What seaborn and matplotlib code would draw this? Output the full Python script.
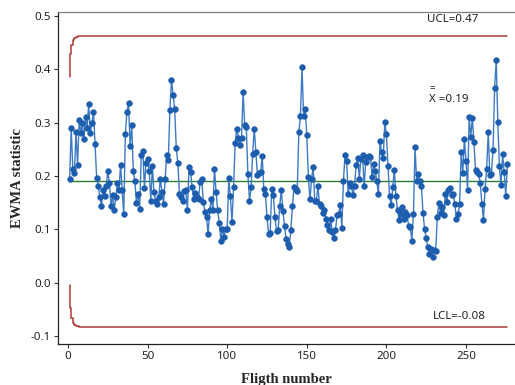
import numpy as np
import pandas as pd
import matplotlib
matplotlib.use("Agg")
import matplotlib.pyplot as plt
import seaborn as sns

# ---- data ----
ewma = [
    0.194, 0.29, 0.213, 0.205, 0.283, 0.22, 0.305, 0.28, 0.30, 0.27, 0.31, 0.29, 0.335, 0.28, 0.30, 0.32, 0.26,
    0.196, 0.181, 0.161, 0.144, 0.173, 0.162, 0.181, 0.21, 0.186, 0.143, 0.164, 0.136, 0.16, 0.186, 0.173, 0.22, 0.173, 0.128,
    0.278, 0.32, 0.336, 0.257, 0.295, 0.21, 0.19, 0.15,
    0.167, 0.139, 0.24, 0.247, 0.178, 0.224, 0.232, 0.209, 0.154, 0.218, 0.17, 0.153, 0.147, 0.16, 0.195, 0.17, 0.148, 0.195, 0.24, 0.23, 0.323,
    0.38, 0.352, 0.326, 0.252, 0.224, 0.167, 0.16, 0.154, 0.172, 0.174, 0.136, 0.216, 0.207, 0.179, 0.156, 0.168, 0.16, 0.157, 0.189, 0.195, 0.151, 0.133, 0.123, 0.091, 0.137, 0.156, 0.136, 0.214, 0.17,
    0.136, 0.112, 0.079, 0.101, 0.086, 0.101, 0.101, 0.196, 0.162, 0.114, 0.179, 0.262, 0.289, 0.272, 0.258, 0.272, 0.357,
    0.295, 0.291, 0.204, 0.153, 0.179, 0.242, 0.289, 0.245, 0.201, 0.206, 0.207, 0.237, 0.176, 0.166, 0.123, 0.091, 0.093, 0.176, 0.164, 0.123, 0.097, 0.098, 0.144, 0.174, 0.134, 0.107, 0.082, 0.073, 0.066, 0.099, 0.144,
    0.179, 0.176, 0.172, 0.282, 0.312, 0.404, 0.312, 0.326, 0.276, 0.198, 0.156, 0.195, 0.216, 0.154, 0.153, 0.181, 0.147, 0.143, 0.131, 0.137, 0.12, 0.109, 0.098, 0.12, 0.095, 0.083, 0.098, 0.126, 0.129, 0.145, 0.103, 0.19, 0.239, 0.229, 0.167, 0.186, 0.182, 0.164, 0.182, 0.22, 0.234, 0.195, 0.232, 0.24, 0.181, 0.226, 0.236, 0.237, 0.236, 0.199, 0.223,
    0.209, 0.19, 0.166, 0.266, 0.245, 0.234, 0.301, 0.278, 0.218, 0.162, 0.145, 0.179, 0.212, 0.162, 0.136, 0.117, 0.129, 0.142, 0.12, 0.133, 0.126, 0.106, 0.104, 0.079, 0.129, 0.254, 0.19, 0.204, 0.19, 0.182, 0.131, 0.101, 0.084, 0.067, 0.053, 0.064, 0.049, 0.061, 0.059, 0.124, 0.149, 0.131, 0.142, 0.126, 0.166, 0.151, 0.173, 0.178, 0.165,
    0.167, 0.148, 0.12, 0.128, 0.148, 0.245, 0.206, 0.27, 0.229, 0.174, 0.311, 0.274, 0.308, 0.264, 0.211, 0.207, 0.204, 0.186, 0.148, 0.118, 0.176, 0.214, 0.282, 0.201, 0.204, 0.249, 0.365, 0.417, 0.301, 0.218, 0.184, 0.241, 0.207, 0.163, 0.223,
]
flight = list(range(1, len(ewma) + 1))

center = 0.19
ucl_start = [0.385, 0.428, 0.446, 0.455, 0.459, 0.461, 0.462]
lcl_start = [-0.005, -0.048, -0.066, -0.075, -0.079, -0.081, -0.082]
ucl_final = 0.463
lcl_final = -0.083

ucl = ucl_start + [ucl_final] * (len(ewma) - len(ucl_start))
lcl = lcl_start + [lcl_final] * (len(ewma) - len(lcl_start))

xticks = [0, 50, 100, 150, 200, 250]
yticks = [-0.1, 0.0, 0.1, 0.2, 0.3, 0.4, 0.5]

df = pd.DataFrame({"flight": flight, "ewma": ewma, "ucl": ucl, "lcl": lcl,
                   "cl": [center] * len(ewma)})

# ---- style ----
sns.set_style("ticks")
plt.rcParams["font.family"] = ["Noto Sans", "DejaVu Sans"]

fig = plt.figure(figsize=(5.15, 3.85), dpi=100)
ax = fig.add_axes([58 / 515, 1 - 344 / 385, 1 - 58 / 515, (344 - 12) / 385])

red = "#B03A36"
sns.lineplot(data=df, x="flight", y="ucl", ax=ax, color=red, lw=1.1,
             drawstyle="steps-pre", zorder=2)
sns.lineplot(data=df, x="flight", y="lcl", ax=ax, color=red, lw=1.1,
             drawstyle="steps-pre", zorder=2)
sns.lineplot(data=df, x="flight", y="cl", ax=ax, color="#2E7D32", lw=1.0, zorder=2)
sns.lineplot(data=df, x="flight", y="ewma", ax=ax, color="#3C7BC4", lw=1.0, zorder=3)
sns.scatterplot(data=df, x="flight", y="ewma", ax=ax, color="#1D5DAE", s=18,
                edgecolor="#1D5DAE", linewidth=0.3, zorder=4)

ax.set_xlim(-6.3, 280.8)
ax.set_ylim(-0.115, 0.5075)
ax.set_xticks(xticks)
ax.set_yticks(yticks)
ax.set_xticklabels([str(t) for t in xticks])
ax.set_yticklabels([f"{t:.1f}" for t in yticks])
ax.tick_params(axis="both", labelsize=8.3, length=3, width=0.8, color="#333333",
               labelcolor="#222222", pad=2)

ax.spines["right"].set_visible(False)
ax.spines["top"].set_visible(True)
ax.spines["top"].set_color("#7F7F7F")
ax.spines["left"].set_color("#222222")
ax.spines["bottom"].set_color("#222222")
for s in ["left", "bottom", "top"]:
    ax.spines[s].set_linewidth(0.9)

ax.set_xlabel("Fligth number", family="Liberation Serif", fontweight="bold",
              fontsize=10.5, labelpad=8)
ax.set_ylabel("EWMA statistic", family="Liberation Serif", fontweight="bold",
              fontsize=10.5, labelpad=5)

ax.text(225.5, 0.493, "UCL=0.47", fontsize=8.3, va="center", ha="left", color="#222222")
ax.text(229, -0.0627, "LCL=-0.08", fontsize=8.3, va="center", ha="left", color="#222222")
ax.text(227, 0.3426, "X =0.19", fontsize=8.3, va="center", ha="left", color="#222222")
ax.text(227.3, 0.363, "=", fontsize=7, va="center", ha="left", color="#222222")

fig.savefig("out.png", dpi=100)
